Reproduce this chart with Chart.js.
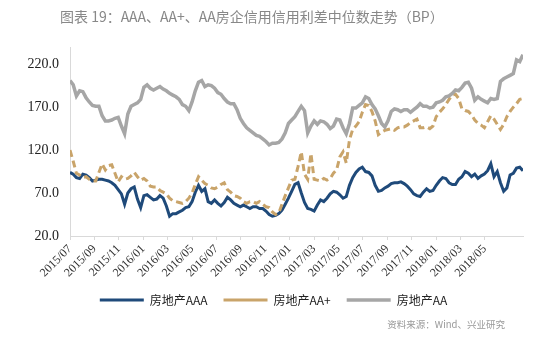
<!DOCTYPE html>
<html>
<head>
<meta charset="utf-8">
<script src="https://cdn.jsdelivr.net/npm/chart.js@4"></script>
<style>
  html, body { margin: 0; padding: 0; background: #fff; }
</style>
</head>
<body>
<canvas id="chart" width="550" height="341"></canvas>
<script>
// Texts
const titleText = '图表 19：AAA、AA+、AA房企信用信用利差中位数走势（BP）';
const sourceText = '资料来源：Wind、兴业研究';

// Axis labels
const tickLabels = ['2015/07', '2015/09', '2015/11', '2016/01', '2016/03', '2016/05',
  '2016/07', '2016/09', '2016/11', '2017/01', '2017/03', '2017/05', '2017/07',
  '2017/09', '2017/11', '2018/01', '2018/03', '2018/05'];
const yTicks = [20, 70, 120, 170, 220];

// Median spreads (BP), one reading roughly every 8 days from 2015/07
const aaa = [
  94, 92, 88, 87, 92, 91, 88, 84,
  85, 86, 86, 85, 84, 82, 79, 74,
  69, 57, 70, 75, 77, 63, 53, 67,
  68, 65, 62, 63, 67, 64, 55, 43,
  46, 46, 48, 50, 53, 54, 60, 71,
  79, 72, 75, 60, 58, 62, 58, 55,
  59, 65, 62, 58, 56, 54, 56, 54,
  52, 54, 54, 52, 52, 49, 45, 43,
  44, 46, 50, 57, 64, 72, 80, 82,
  70, 59, 52, 51, 49, 56, 62, 60,
  64, 69, 72, 71, 68, 64, 66, 79,
  88, 94, 98, 100, 95, 94, 90, 79,
  72, 73, 76, 78, 81, 82, 82, 83,
  81, 78, 74, 69, 67, 66, 71, 75,
  72, 73, 79, 84, 88, 87, 82, 80,
  80, 86, 89, 95, 93, 89, 92, 87,
  90, 92, 96, 104, 89, 95, 82, 72,
  76, 91, 93, 99, 100, 96
];
const aaPlus = [
  120, 107, 93, 91, 88, 89, 86, 84,
  84, 94, 104, 97, 102, 103, 93, 83,
  89, 86, 87, 90, 94, 89, 85, 87,
  84, 78, 77, 77, 73, 71, 69, 64,
  61, 60, 59, 58, 60, 64, 70, 80,
  89, 85, 81, 79, 76, 75, 77, 80,
  82, 74, 71, 67, 66, 64, 60, 58,
  60, 60, 58, 60, 57, 54, 53, 48,
  45, 47, 57, 67, 76, 85, 86, 101,
  118, 92, 86, 116, 86, 85, 84, 87,
  85, 87, 93, 97, 112, 118, 105, 132,
  144, 148, 153, 164, 173, 172, 165, 154,
  138, 141, 143, 144, 145, 143, 146, 147,
  147, 149, 152, 154, 156, 146, 146, 147,
  145, 148, 159, 164, 168, 173, 179, 184,
  185, 180, 168, 166, 165, 161, 155, 151,
  149, 146, 153, 160, 156, 150, 144, 150,
  159, 165, 170, 174, 179, 180
];
const aa = [
  201, 196, 183, 189, 188, 181, 176, 172,
  171, 171, 160, 154, 154, 155, 157, 158,
  148, 139, 162, 171, 173, 175, 179, 193,
  196, 192, 190, 192, 194, 191, 189, 186,
  184, 182, 179, 173, 171, 166, 176, 189,
  199, 201, 194, 196, 195, 192, 187, 185,
  180, 176, 174, 174, 167, 157, 151, 146,
  143, 140, 137, 136, 133, 130, 126, 128,
  128, 129, 133, 140, 151, 155, 159, 165,
  171, 166, 140, 148, 154, 150, 154, 153,
  150, 145, 148, 156, 155, 146, 139, 151,
  169, 169, 172, 175, 182, 180, 173, 168,
  160, 151, 147, 154, 165, 168, 167, 165,
  167, 167, 164, 167, 170, 174, 171, 171,
  169, 170, 175, 176, 178, 182, 183, 186,
  190, 189, 193, 198, 199, 192, 178, 182,
  179, 177, 175, 180, 179, 180, 200, 203,
  205, 207, 209, 225, 223, 231
];

// months after 2015/07 between two readings
const step = 0.2633;
const toPoints = (vals) => vals.map((v, i) => ({ x: i * step, y: v }));

// Title and source note
const textPlugin = {
  id: 'texts',
  afterDraw(chart) {
    const ctx = chart.ctx;
    ctx.save();
    ctx.fillStyle = '#888';
    ctx.textBaseline = 'middle';
    ctx.textAlign = 'left';
    ctx.font = '14px "Noto Sans CJK SC"';
    ctx.fillText(titleText, 60, 17);
    ctx.fillStyle = '#999';
    ctx.textAlign = 'right';
    ctx.font = '9.5px "Noto Sans CJK SC"';
    ctx.fillText(sourceText, 505, 324);
    ctx.restore();
  }
};

new Chart(document.getElementById('chart'), {
  type: 'line',
  data: {
    datasets: [
      { label: '房地产AAA', data: toPoints(aaa), borderColor: '#1f4a7a', borderWidth: 3, order: 3 },
      { label: '房地产AA+', data: toPoints(aaPlus), borderColor: '#c9a46a', borderWidth: 3, borderDash: [7, 4], order: 2 },
      { label: '房地产AA', data: toPoints(aa), borderColor: '#a6a6a6', borderWidth: 3.5, order: 1 }
    ]
  },
  options: {
    responsive: false,
    animation: false,
    elements: { point: { radius: 0 }, line: { tension: 0 } },
    layout: { padding: { top: 47, left: 24, right: 27, bottom: 25 } },
    plugins: {
      legend: {
        position: 'bottom',
        labels: {
          usePointStyle: true,
          pointStyle: 'line',
          pointStyleWidth: 44,
          padding: 16,
          color: '#222',
          font: { family: '"Noto Sans CJK SC"', size: 12 },
          sort: (a, b) => a.datasetIndex - b.datasetIndex
        }
      },
      title: { display: false },
      tooltip: { enabled: false }
    },
    scales: {
      x: {
        type: 'linear',
        min: 0,
        max: 37.13,
        afterBuildTicks: (axis) => { axis.ticks = tickLabels.map((_, k) => ({ value: 2 * k })); },
        afterFit: (axis) => { axis.height = 42; },
        grid: { drawOnChartArea: false, drawTicks: true, tickLength: 4, color: '#d9d9d9' },
        border: { color: '#d9d9d9' },
        ticks: {
          autoSkip: false,
          minRotation: 45,
          maxRotation: 45,
          padding: 2,
          color: '#333',
          font: { family: '"Liberation Serif"', size: 12 },
          callback: (v, i) => tickLabels[i]
        }
      },
      y: {
        min: 20,
        max: 240,
        afterBuildTicks: (axis) => { axis.ticks = yTicks.map(v => ({ value: v })); },
        afterFit: (axis) => { axis.width = 46; },
        grid: { display: false, drawTicks: false },
        border: { display: true, color: '#d9d9d9' },
        ticks: {
          padding: 11,
          color: '#222',
          font: { family: '"Liberation Serif"', size: 14 },
          callback: (v) => v.toFixed(1)
        }
      }
    }
  },
  plugins: [textPlugin]
});
</script>
</body>
</html>
